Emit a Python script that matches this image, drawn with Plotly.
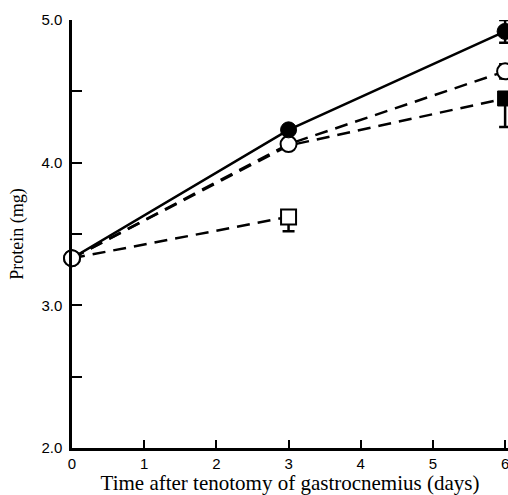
import plotly.graph_objects as go

days_a = [0, 3, 6]
protein_filled_circle = [3.33, 4.23, 4.92]
err_filled_circle = [0, 0, 0.08]

days_b = [0, 3, 6]
protein_open_circle = [3.33, 4.13, 4.64]
err_open_circle = [0, 0, 0.05]

days_c = [0, 3, 6]
protein_filled_square = [3.33, 4.12, 4.45]
err_filled_square_minus = [0, 0, 0.20]
err_filled_square_plus = [0, 0, 0.04]

days_d = [0, 3]
protein_open_square = [3.33, 3.62]
err_open_square = [0, 0.10]

x_ticks = [0, 1, 2, 3, 4, 5, 6]
y_ticks = [2.0, 2.5, 3.0, 3.5, 4.0, 4.5, 5.0]
y_ticktext = ["2.0", "", "3.0", "", "4.0", "", "5.0"]

LW = 2.5
DASH = "13px,8px"
MS = 16

fig = go.Figure()

# lines
fig.add_trace(go.Scatter(x=days_d, y=protein_open_square, mode="lines",
                         line=dict(color="black", width=LW, dash=DASH), cliponaxis=False))
fig.add_trace(go.Scatter(x=days_c, y=protein_filled_square, mode="lines",
                         line=dict(color="black", width=LW, dash=DASH), cliponaxis=False))
fig.add_trace(go.Scatter(x=days_b, y=protein_open_circle, mode="lines",
                         line=dict(color="black", width=LW, dash=DASH), cliponaxis=False))
fig.add_trace(go.Scatter(x=days_a, y=protein_filled_circle, mode="lines",
                         line=dict(color="black", width=LW), cliponaxis=False))

# markers
fig.add_trace(go.Scatter(x=days_d, y=protein_open_square, mode="markers",
                         marker=dict(symbol="square", size=[0, MS - 1], color="white", opacity=1,
                                     line=dict(color="black", width=2)),
                         error_y=dict(type="data", array=[0, 0], arrayminus=err_open_square,
                                      symmetric=False, color="black", thickness=LW, width=6),
                         cliponaxis=False))
fig.add_trace(go.Scatter(x=days_c, y=protein_filled_square, mode="markers",
                         marker=dict(symbol="square", size=[0, 0, MS - 1], color="black", opacity=1,
                                     line=dict(color="black", width=1)),
                         error_y=dict(type="data", array=err_filled_square_plus,
                                      arrayminus=err_filled_square_minus, symmetric=False,
                                      color="black", thickness=LW, width=6),
                         cliponaxis=False))
fig.add_trace(go.Scatter(x=days_b, y=protein_open_circle, mode="markers",
                         marker=dict(symbol="circle", size=MS, color="white", opacity=1,
                                     line=dict(color="black", width=2)),
                         error_y=dict(type="data", array=err_open_circle, color="black",
                                      thickness=LW, width=6),
                         cliponaxis=False))
fig.add_trace(go.Scatter(x=days_a, y=protein_filled_circle, mode="markers",
                         marker=dict(symbol="circle", size=[0, MS, MS], color="black", opacity=1,
                                     line=dict(color="black", width=1)),
                         error_y=dict(type="data", array=err_filled_circle, color="black",
                                      thickness=LW, width=6),
                         cliponaxis=False))
# redraw common start point on top
fig.add_trace(go.Scatter(x=days_b[:1], y=protein_open_circle[:1], mode="markers",
                         marker=dict(symbol="circle", size=MS, color="white", opacity=1,
                                     line=dict(color="black", width=2)),
                         cliponaxis=False))

fig.update_layout(
    width=508, height=495,
    margin=dict(l=72, r=0, t=20, b=47),
    plot_bgcolor="white", paper_bgcolor="white",
    showlegend=False,
    font=dict(family="Liberation Sans", color="black"),
)
fig.update_xaxes(
    range=[0, 6.04], tickvals=x_ticks, ticktext=[str(v) for v in x_ticks],
    ticks="inside", ticklen=8, tickwidth=2, tickcolor="black",
    ticklabeloverflow="allow",
    showline=True, linecolor="black", linewidth=2.5, showgrid=False, zeroline=False,
    tickfont=dict(family="Liberation Sans", size=15, color="black"),
    title=dict(text="Time after tenotomy of gastrocnemius (days)",
               font=dict(family="Liberation Serif", size=21, color="black"), standoff=3),
)
fig.update_yaxes(
    range=[2.0, 5.0], tickvals=y_ticks, ticktext=y_ticktext,
    ticks="inside", ticklen=10, tickwidth=2, tickcolor="black",
    ticklabelstandoff=4,
    showline=True, linecolor="black", linewidth=2.5, showgrid=False, zeroline=False,
    tickfont=dict(family="Liberation Sans", size=15, color="black"),
    title=dict(text="Protein (mg)",
               font=dict(family="Liberation Serif", size=18, color="black"), standoff=14),
)

fig.write_html("out.html", config={"displayModeBar": False},
               post_script="document.body.style.margin='0';")
